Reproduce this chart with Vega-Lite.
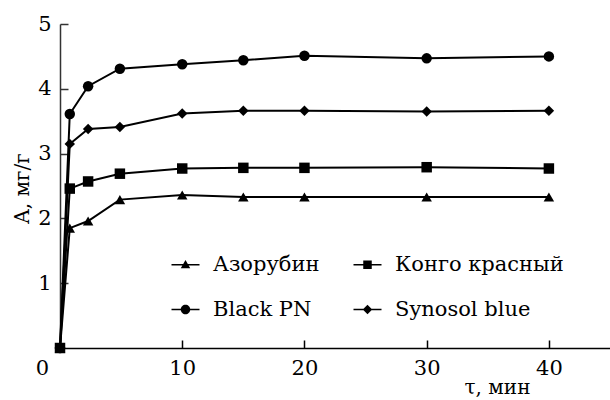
{
  "$schema": "https://vega.github.io/schema/vega-lite/v6.json",
  "width": 550,
  "height": 324,
  "autosize": "none",
  "padding": {"left": 60, "top": 24, "right": 0, "bottom": 52},
  "background": "white",
  "config": {
    "view": {"stroke": null},
    "font": "DejaVu Serif"
  },
  "data": {
    "values": [
      {"dye": "Азорубин", "t": 0, "A": 0},
      {"dye": "Азорубин", "t": 0.8, "A": 1.85},
      {"dye": "Азорубин", "t": 2.3, "A": 1.96},
      {"dye": "Азорубин", "t": 4.9, "A": 2.29},
      {"dye": "Азорубин", "t": 10, "A": 2.36},
      {"dye": "Азорубин", "t": 15, "A": 2.33},
      {"dye": "Азорубин", "t": 20, "A": 2.33},
      {"dye": "Азорубин", "t": 30, "A": 2.33},
      {"dye": "Азорубин", "t": 40, "A": 2.33},
      {"dye": "Конго красный", "t": 0, "A": 0},
      {"dye": "Конго красный", "t": 0.8, "A": 2.46},
      {"dye": "Конго красный", "t": 2.3, "A": 2.57},
      {"dye": "Конго красный", "t": 4.9, "A": 2.69},
      {"dye": "Конго красный", "t": 10, "A": 2.77},
      {"dye": "Конго красный", "t": 15, "A": 2.78},
      {"dye": "Конго красный", "t": 20, "A": 2.78},
      {"dye": "Конго красный", "t": 30, "A": 2.79},
      {"dye": "Конго красный", "t": 40, "A": 2.77},
      {"dye": "Black PN", "t": 0, "A": 0},
      {"dye": "Black PN", "t": 0.8, "A": 3.61},
      {"dye": "Black PN", "t": 2.3, "A": 4.04},
      {"dye": "Black PN", "t": 4.9, "A": 4.31},
      {"dye": "Black PN", "t": 10, "A": 4.38},
      {"dye": "Black PN", "t": 15, "A": 4.44},
      {"dye": "Black PN", "t": 20, "A": 4.51},
      {"dye": "Black PN", "t": 30, "A": 4.47},
      {"dye": "Black PN", "t": 40, "A": 4.5},
      {"dye": "Synosol blue", "t": 0, "A": 0},
      {"dye": "Synosol blue", "t": 0.8, "A": 3.15},
      {"dye": "Synosol blue", "t": 2.3, "A": 3.38},
      {"dye": "Synosol blue", "t": 4.9, "A": 3.41},
      {"dye": "Synosol blue", "t": 10, "A": 3.62},
      {"dye": "Synosol blue", "t": 15, "A": 3.66},
      {"dye": "Synosol blue", "t": 20, "A": 3.66},
      {"dye": "Synosol blue", "t": 30, "A": 3.65},
      {"dye": "Synosol blue", "t": 40, "A": 3.66}
    ]
  },
  "encoding": {
    "x": {
      "field": "t",
      "type": "quantitative",
      "scale": {"domain": [0, 45], "nice": false, "zero": false},
      "axis": {
        "values": [0, 10, 20, 30, 40],
        "grid": false,
        "domainColor": "black",
        "domainWidth": 1.5,
        "tickColor": "black",
        "tickWidth": 1.5,
        "tickSize": -8,
        "tickOpacity": {"condition": {"test": "datum.value === 0", "value": 0}, "value": 1},
        "labelOffset": {"condition": {"test": "datum.value === 0", "value": -18}, "value": 0},
        "labelFont": "DejaVu Serif",
        "labelFontSize": 21,
        "labelColor": "black",
        "labelPadding": 17,
        "labelFlush": false,
        "title": "τ, мин",
        "titleFont": "DejaVu Serif",
        "titleFontSize": 20,
        "titleFontWeight": "normal",
        "titleColor": "black",
        "titleX": 470,
        "titleY": 45,
        "titleAlign": "right",
        "titleBaseline": "alphabetic"
      }
    },
    "y": {
      "field": "A",
      "type": "quantitative",
      "scale": {"domain": [0, 5], "nice": false},
      "axis": {
        "values": [1, 2, 3, 4, 5],
        "grid": false,
        "domainColor": "#333333",
        "domainWidth": 1.5,
        "tickColor": "#333333",
        "tickWidth": 1.5,
        "tickSize": -8,
        "labelFont": "DejaVu Serif",
        "labelFontSize": 21,
        "labelColor": "black",
        "labelPadding": 17,
        "labelFlush": false,
        "title": "A, мг/г",
        "titleFont": "DejaVu Serif",
        "titleFontSize": 20,
        "titleFontWeight": "normal",
        "titleColor": "black",
        "titleX": -32,
        "titleY": 164,
        "titleAngle": 270,
        "titleAlign": "center",
        "titleBaseline": "alphabetic"
      }
    }
  },
  "layer": [
    {
      "mark": {"type": "line", "color": "black", "strokeWidth": 2},
      "encoding": {"detail": {"field": "dye"}}
    },
    {
      "mark": {"type": "point", "filled": true, "color": "black", "opacity": 1, "size": 110},
      "encoding": {
        "shape": {
          "field": "dye",
          "type": "nominal",
          "scale": {
            "domain": ["Азорубин", "Конго красный", "Black PN", "Synosol blue"],
            "range": ["triangle-up", "square", "circle", "diamond"]
          },
          "legend": null
        }
      }
    },
    {
      "mark": {"type": "point", "filled": true, "color": "black", "opacity": 0, "size": 100},
      "encoding": {
        "shape": {
          "field": "dye",
          "type": "nominal",
          "scale": {
            "domain": ["Азорубин", "Конго красный", "Black PN", "Synosol blue"],
            "range": [
              "M-2.8,-0.15H2.8V0.15H-2.8ZM0,-0.95L0.95,0.7L-0.95,0.7Z",
              "M-2.8,-0.15H2.8V0.15H-2.8ZM-0.85,-0.85H0.85V0.85H-0.85Z",
              "M-2.8,-0.15H2.8V0.15H-2.8ZM0.95,0A0.95,0.95,0,1,1,-0.95,0A0.95,0.95,0,1,1,0.95,0Z",
              "M-2.8,-0.15H2.8V0.15H-2.8ZM0,-0.95L0.95,0L0,0.95L-0.95,0Z"
            ]
          },
          "legend": {
            "orient": "none",
            "legendX": 115,
            "legendY": 230,
            "columns": 2,
            "direction": "horizontal",
            "gridAlign": "each",
            "title": null,
            "padding": 0,
            "labelFont": "DejaVu Serif",
            "labelFontSize": 21,
            "labelColor": "black",
            "labelLimit": 400,
            "symbolSize": 100,
            "symbolOpacity": 1,
            "symbolFillColor": "black",
            "labelOffset": 17,
            "columnPadding": 30,
            "rowPadding": 23
          }
        }
      }
    }
  ],
  "resolve": {"scale": {"shape": "independent"}}
}
